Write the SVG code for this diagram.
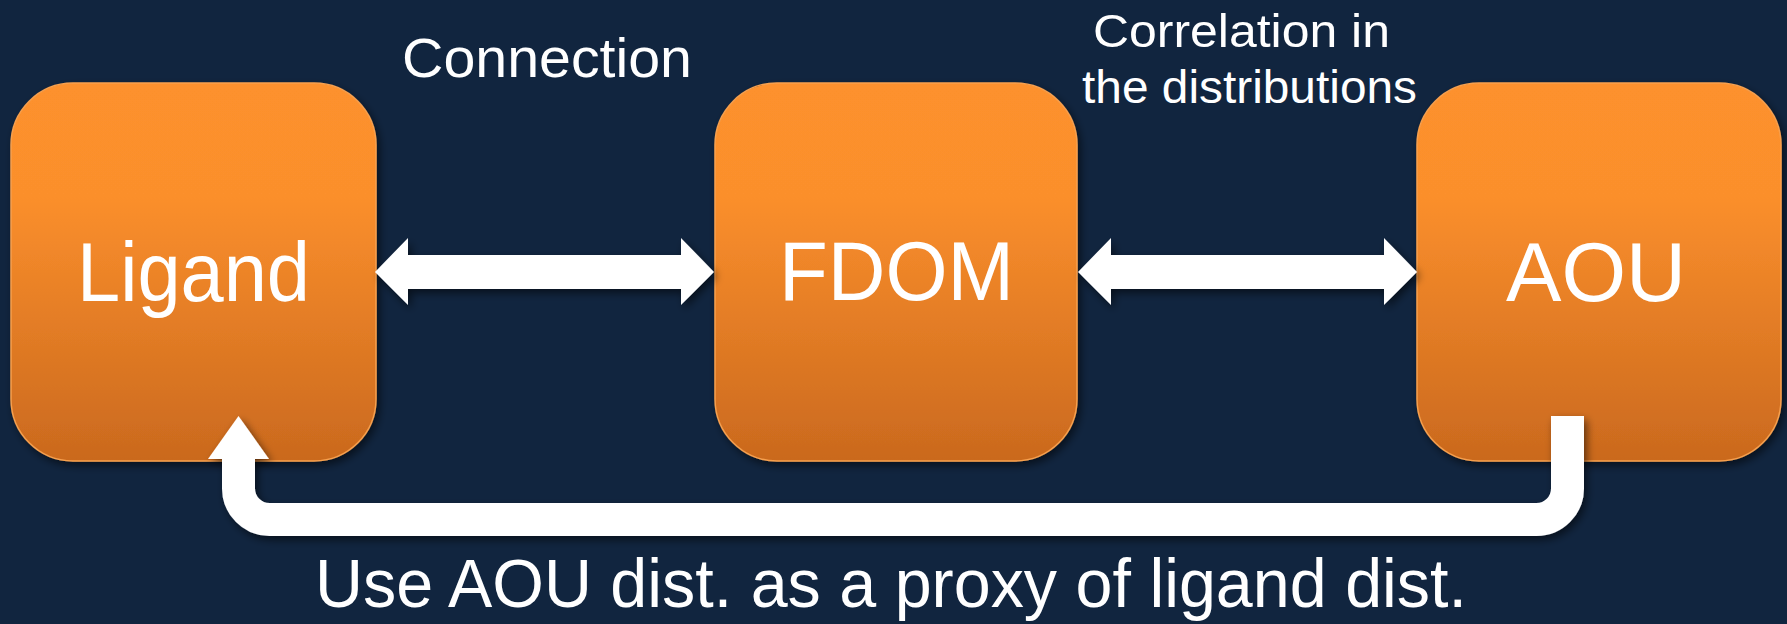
<svg xmlns="http://www.w3.org/2000/svg" width="1787" height="624" viewBox="0 0 1787 624">
<defs>
<linearGradient id="og" x1="0" y1="0" x2="0" y2="1">
<stop offset="0" stop-color="#fd912d"/>
<stop offset="0.3" stop-color="#fb8f2c"/>
<stop offset="1" stop-color="#ca691e"/>
</linearGradient>
<filter id="sh" x="-10%" y="-10%" width="130%" height="130%">
<feGaussianBlur in="SourceAlpha" stdDeviation="4"/>
<feOffset dx="3" dy="4" result="b"/>
<feComponentTransfer><feFuncA type="linear" slope="0.55"/></feComponentTransfer>
<feMerge><feMergeNode/><feMergeNode in="SourceGraphic"/></feMerge>
</filter>
<style>
.box{fill:url(#og);stroke:#f7a04e;stroke-width:1.5}
.lbl{fill:#ffffff;font-family:"Liberation Sans",Arial,sans-serif;text-anchor:middle}
.arr{fill:#ffffff}
</style>
</defs>
<rect width="1787" height="624" fill="#11253f"/>
<g id="node-ligand" filter="url(#sh)">
<rect class="box" x="11" y="83" width="365" height="378" rx="62"/>
<text class="lbl" x="193.5" y="301" font-size="84" textLength="233" lengthAdjust="spacingAndGlyphs">Ligand</text>
</g>
<g id="node-fdom" filter="url(#sh)">
<rect class="box" x="715" y="83" width="362" height="378" rx="62"/>
<text class="lbl" x="896.5" y="300" font-size="84" textLength="235" lengthAdjust="spacingAndGlyphs">FDOM</text>
</g>
<g id="node-aou" filter="url(#sh)">
<rect class="box" x="1417" y="83" width="364" height="378" rx="62"/>
<text class="lbl" x="1596" y="301" font-size="84" textLength="180" lengthAdjust="spacingAndGlyphs">AOU</text>
</g>
<g id="connectors" filter="url(#sh)">
<path class="arr" d="M375,272 L408,238 L408,255 L681,255 L681,238 L714,272 L681,305 L681,289 L408,289 L408,305 Z"/>
<path class="arr" d="M1078,272 L1111,238 L1111,255 L1384,255 L1384,238 L1417,272 L1384,305 L1384,289 L1111,289 L1111,305 Z"/>
<path d="M1567.5,416 V488.5 A31,31 0 0 1 1536.5,519.5 H269.5 A31,31 0 0 1 238.5,488.5 V455" fill="none" stroke="#ffffff" stroke-width="33"/>
<polygon class="arr" points="208,459 238.5,416 269,459"/>
</g>
<g id="labels">
<text class="lbl" x="547" y="77" font-size="56" textLength="290" lengthAdjust="spacingAndGlyphs">Connection</text>
<text class="lbl" x="1241.5" y="47" font-size="47" textLength="297" lengthAdjust="spacingAndGlyphs">Correlation in</text>
<text class="lbl" x="1249.5" y="103" font-size="47" textLength="335" lengthAdjust="spacingAndGlyphs">the distributions</text>
<text class="lbl" x="891" y="607" font-size="68" textLength="1152" lengthAdjust="spacingAndGlyphs">Use AOU dist. as a proxy of ligand dist.</text>
</g>
</svg>
